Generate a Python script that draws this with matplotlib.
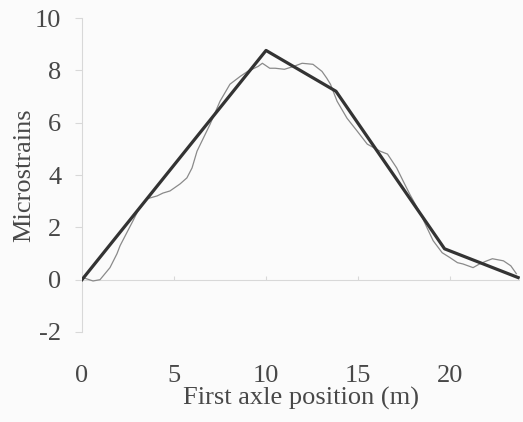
import numpy as np
import matplotlib.pyplot as plt

# model (thick) line
model_x = [0, 10.0, 13.8, 19.7, 23.7]
model_y = [0, 8.76, 7.2, 1.18, 0.08]

# measured (thin) line
meas_x = [0.05, 0.6, 0.98, 1.52, 1.9, 2.07, 2.77, 3.04, 3.53, 4.08, 4.4, 4.78, 5.33,
          5.7, 5.98, 6.14, 6.25, 6.96, 7.5, 8.04, 8.6, 9.0, 9.57, 9.8, 9.95, 10.2,
          10.5, 11.0, 11.5, 11.96, 12.55, 13.04, 13.3, 13.5, 13.86, 14.4, 14.95, 15.5,
          16.2, 16.6, 17.1, 17.45, 17.8, 18.4, 18.75, 19.08, 19.57, 20.0, 20.4, 20.7,
          21.25, 21.6, 22.0, 22.3, 22.9, 23.3, 23.6]
meas_y = [0.08, -0.05, 0.0, 0.46, 0.99, 1.3, 2.25, 2.63, 3.09, 3.2, 3.31, 3.39, 3.66,
          3.89, 4.27, 4.65, 4.91, 5.94, 6.82, 7.47, 7.77, 7.96, 8.15, 8.27, 8.2, 8.08,
          8.08, 8.04, 8.15, 8.27, 8.23, 7.96, 7.7, 7.47, 6.82, 6.17, 5.68, 5.18,
          4.91, 4.8, 4.27, 3.77, 3.28, 2.51, 1.98, 1.49, 1.03, 0.84, 0.65, 0.6,
          0.46, 0.6, 0.72, 0.8, 0.72, 0.53, 0.23]

xticks = [0, 5, 10, 15, 20]
yticks = [-2, 0, 2, 4, 6, 8, 10]

plt.rcParams['font.family'] = ['Liberation Serif', 'DejaVu Serif']
plt.rcParams['axes.unicode_minus'] = False

fig = plt.figure(figsize=(5.23, 4.22), dpi=100, facecolor='#fbfbfb')
ax = fig.add_axes([82 / 523, 1 - 332 / 422, 438 / 523, (332 - 18) / 422])
ax.set_facecolor('#fbfbfb')

ax.plot(meas_x, meas_y, color='#8a8a8a', lw=0.9, zorder=2)
ax.plot(model_x, model_y, color='#333333', lw=2.3, zorder=3)

ax.axhline(0, color='#d8d8d8', lw=0.8, zorder=1)
ax.vlines(xticks[1:], 0, 0.15, color='#d8d8d8', lw=0.8)

ax.set_xlim(0, 23.8)
ax.set_ylim(-2, 10)
ax.set_xticks(xticks)
ax.set_yticks(yticks)

for s in ['top', 'right', 'bottom']:
    ax.spines[s].set_visible(False)
ax.spines['left'].set_color('#d8d8d8')
ax.spines['left'].set_linewidth(0.8)

ax.tick_params(axis='y', length=5, color='#d8d8d8', labelsize=19, labelcolor='#484848', pad=10)
ax.tick_params(axis='x', length=0, labelsize=19, labelcolor='#484848', pad=24)

ax.set_xlabel('First axle position (m)', fontsize=19, color='#484848', labelpad=0)
ax.set_ylabel('Microstrains', fontsize=19, color='#484848', labelpad=0)

fig.savefig('out.png', dpi=100, facecolor=fig.get_facecolor())
